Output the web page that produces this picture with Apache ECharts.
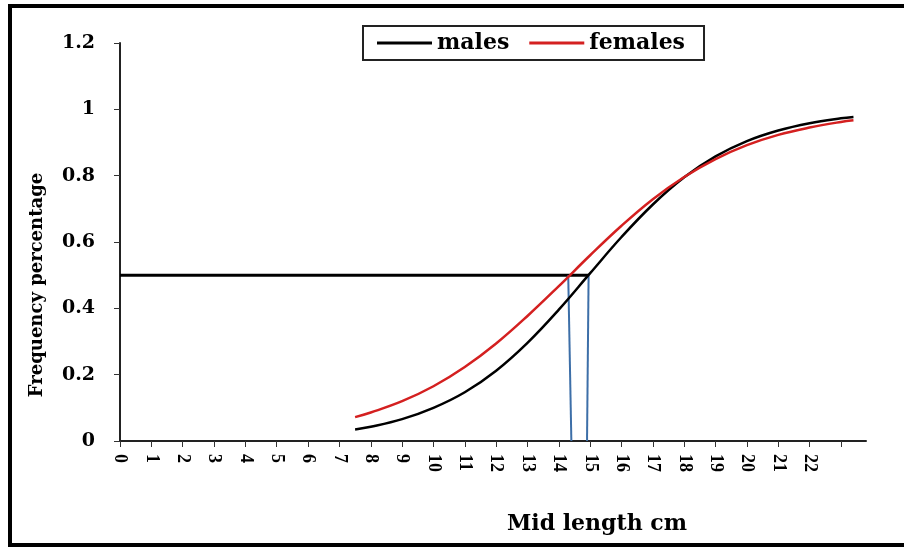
<!DOCTYPE html>
<html>
<head>
<meta charset="utf-8">
<script src="https://cdn.jsdelivr.net/npm/echarts@6/dist/echarts.min.js"></script>
<style>
  html, body { margin: 0; padding: 0; background: #fff; }
  #chart { width: 904px; height: 547px; }
</style>
</head>
<body>
<div id="chart"></div>
<script>
// Mid lengths (cm) at which the maturity ogives are plotted
const midLengths = [7.5, 8, 9, 10, 11, 12, 13, 14, 15, 16, 17, 18, 19, 20, 21, 22, 23, 23.4];
// Fraction mature by length
const males   = [0.035, 0.043, 0.066, 0.100, 0.147, 0.212, 0.296, 0.396, 0.506, 0.615, 0.713, 0.795, 0.858, 0.904, 0.936, 0.958, 0.973, 0.977];
const females = [0.072, 0.086, 0.120, 0.165, 0.223, 0.294, 0.377, 0.467, 0.560, 0.649, 0.729, 0.796, 0.850, 0.892, 0.923, 0.945, 0.962, 0.967];
// Length at 50% maturity
const l50Females = [[14.3, 0.5], [14.4, 0]];
const l50Males = [[14.95, 0.5], [14.9, 0]];
const halfLine = [[0, 0.5], [14.95, 0.5]];
const yTicks = [0, 0.2, 0.4, 0.6, 0.8, 1, 1.2];
const xLabelMax = 22;

const serif = '"Liberation Serif", "Times New Roman", serif';
const wideSerif = '"DejaVu Serif", serif';
const chart = echarts.init(document.getElementById('chart'));

const pair = (xs, ys) => xs.map((x, i) => [x, ys[i]]);

chart.setOption({
  animation: false,
  backgroundColor: '#fff',
  graphic: [
    {
      type: 'rect',
      shape: { x: 10, y: 6, width: 1000, height: 539 },
      style: { fill: 'none', stroke: '#000', lineWidth: 4 },
      silent: true
    },
    {
      type: 'text', x: 37, y: 285, rotation: Math.PI / 2,
      style: {
        text: 'Frequency percentage', fill: '#000',
        font: 'bold 18px ' + wideSerif, align: 'center', verticalAlign: 'middle'
      },
      silent: true
    },
    {
      type: 'text', x: 597, y: 524,
      style: {
        text: 'Mid length cm', fill: '#000',
        font: 'bold 22px ' + wideSerif, align: 'center', verticalAlign: 'middle'
      },
      silent: true
    }
  ],
  grid: { left: 120, right: 38, top: 43, bottom: 106 },
  legend: {
    data: ['males', 'females'],
    left: 363, top: 26,
    padding: [6, 19, 6, 14],
    borderColor: '#222', borderWidth: 2,
    itemWidth: 55, itemHeight: 3, itemGap: 20,
    icon: 'rect',
    textStyle: { fontFamily: wideSerif, fontWeight: 'bold', fontSize: 22, color: '#000' }
  },
  xAxis: {
    type: 'value', min: 0, max: 23.8, interval: 1,
    axisLine: { show: true, lineStyle: { color: '#222', width: 2 } },
    axisTick: { show: true, length: 6, lineStyle: { color: '#333' } },
    splitLine: { show: false },
    axisLabel: {
      rotate: -90, margin: 13,
      fontFamily: serif, fontWeight: 'bold', fontSize: 18, color: '#000',
      showMaxLabel: false,
      formatter: v => (v <= xLabelMax && Number.isInteger(v)) ? String(v) : ''
    }
  },
  yAxis: {
    type: 'value', min: 0, max: 1.2, interval: 0.2,
    axisLine: { show: true, lineStyle: { color: '#222', width: 2 } },
    axisTick: { show: true, length: 6, lineStyle: { color: '#333' } },
    splitLine: { show: false },
    axisLabel: {
      margin: 25,
      fontFamily: wideSerif, fontWeight: 'bold', fontSize: 19, color: '#000',
      formatter: v => {
        const t = yTicks.find(y => Math.abs(y - v) < 1e-6);
        return t === undefined ? '' : String(t);
      }
    }
  },
  series: [
    {
      name: 'half', type: 'line', data: halfLine, symbol: 'none', silent: true,
      lineStyle: { color: '#000', width: 3 }, z: 3
    },
    {
      name: 'l50f', type: 'line', data: l50Females, symbol: 'none', silent: true,
      lineStyle: { color: '#3d6fa8', width: 2 }, z: 3
    },
    {
      name: 'l50m', type: 'line', data: l50Males, symbol: 'none', silent: true,
      lineStyle: { color: '#3d6fa8', width: 2 }, z: 3
    },
    {
      name: 'males', type: 'line', data: pair(midLengths, males), symbol: 'none', smooth: 0.4,
      color: '#000', lineStyle: { color: '#000', width: 2.5 }, z: 4
    },
    {
      name: 'females', type: 'line', data: pair(midLengths, females), symbol: 'none', smooth: 0.4,
      color: '#d42020', lineStyle: { color: '#d42020', width: 2.5 }, z: 4
    }
  ]
});
</script>
</body>
</html>
